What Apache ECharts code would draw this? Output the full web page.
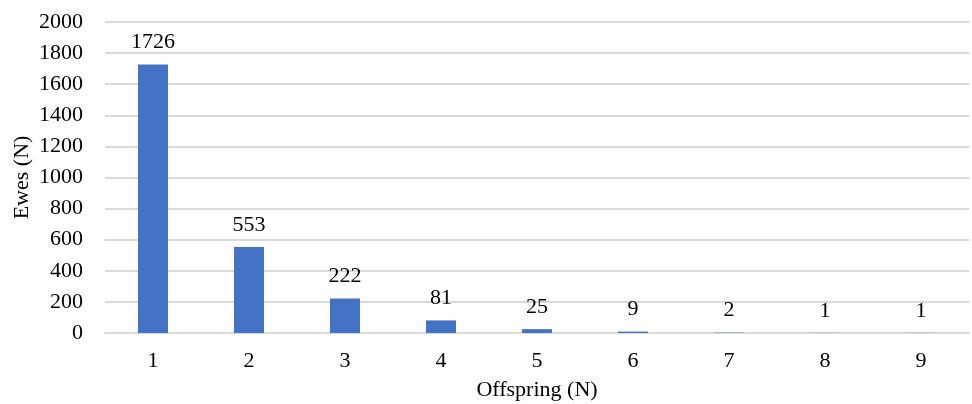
<!DOCTYPE html>
<html>
<head>
<meta charset="utf-8">
<script src="https://cdn.jsdelivr.net/npm/echarts@6/dist/echarts.min.js"></script>
<style>
html,body{margin:0;padding:0;background:#fff;}
#chart{width:972px;height:404px;}
</style>
</head>
<body>
<div id="chart"></div>
<script>
// Number of offspring per ewe and the count of ewes in each group
const offspring = ['1', '2', '3', '4', '5', '6', '7', '8', '9'];
const ewes = [1726, 553, 222, 81, 25, 9, 2, 1, 1];
const yTicks = { min: 0, max: 2000, interval: 200 };
const xTitle = 'Offspring (N)';
const yTitle = 'Ewes (N)';

const font = '"Liberation Serif", "Times New Roman", serif';
const fs = 22;
const gridBox = { left: 105, right: 3, top: 22, bottom: 71 };
const W = 972, H = 404;

const chart = echarts.init(document.getElementById('chart'));
chart.setOption({
  animation: false,
  textStyle: { fontFamily: font },
  grid: Object.assign({ containLabel: false, outerBoundsMode: 'none' }, gridBox),
  // Axis titles, centred on the plot area
  graphic: [
    {
      type: 'text',
      x: (gridBox.left + W - gridBox.right) / 2,
      y: H - gridBox.bottom + 57,
      style: {
        text: xTitle, font: fs + 'px ' + font, fill: '#000',
        align: 'center', verticalAlign: 'middle'
      }
    },
    {
      type: 'text',
      x: 22,
      y: (gridBox.top + H - gridBox.bottom) / 2,
      rotation: Math.PI / 2,
      style: {
        text: yTitle, font: fs + 'px ' + font, fill: '#000',
        align: 'center', verticalAlign: 'middle'
      }
    }
  ],
  xAxis: {
    type: 'category',
    data: offspring,
    axisLine: { show: true, lineStyle: { color: '#d9d9d9', width: 2 } },
    axisTick: { show: false },
    axisLabel: { fontFamily: font, fontSize: fs, color: '#000', margin: 17 }
  },
  yAxis: {
    type: 'value',
    min: yTicks.min,
    max: yTicks.max,
    interval: yTicks.interval,
    axisLine: { show: false },
    axisTick: { show: false },
    splitLine: { lineStyle: { color: '#d9d9d9', width: 2 } },
    axisLabel: {
      fontFamily: font, fontSize: fs, color: '#000', margin: 22,
      formatter: v => String(v)
    }
  },
  series: [{
    type: 'bar',
    data: ewes,
    barWidth: 30,
    itemStyle: { color: '#4472c4' },
    label: {
      show: true,
      position: 'top',
      distance: 11,
      fontFamily: font,
      fontSize: fs,
      color: '#000'
    }
  }]
});
</script>
</body>
</html>
